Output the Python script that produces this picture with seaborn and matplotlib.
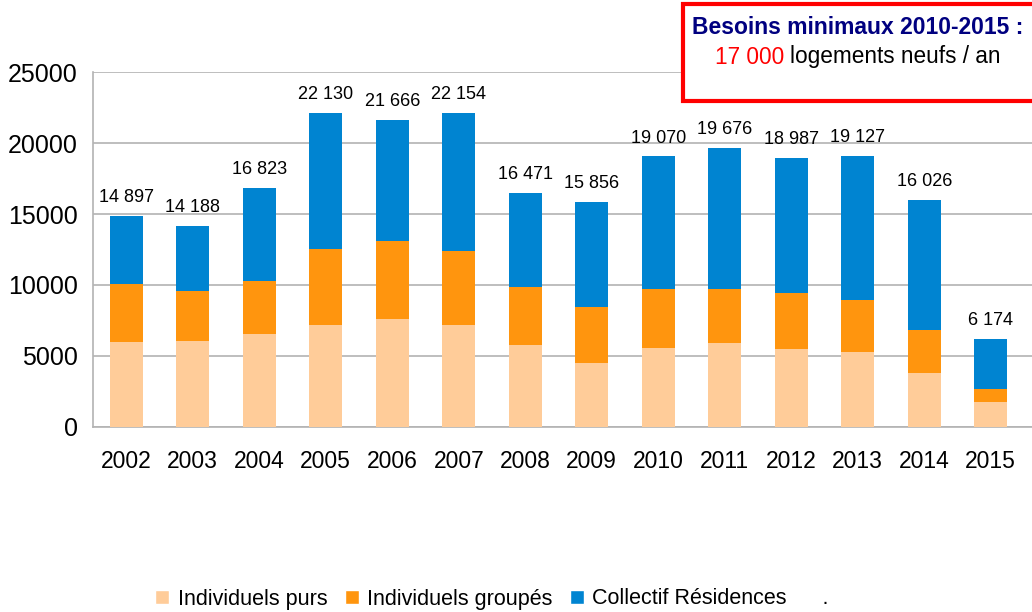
import numpy as np
import pandas as pd
import matplotlib
import matplotlib.pyplot as plt
import seaborn as sns
from matplotlib.patches import Patch, Rectangle

matplotlib.use('Agg')

# Data
years = ['2002', '2003', '2004', '2005', '2006', '2007', '2008',
         '2009', '2010', '2011', '2012', '2013', '2014', '2015']
totals = [14897, 14188, 16823, 22130, 21666, 22154, 16471,
          15856, 19070, 19676, 18987, 19127, 16026, 6174]
purs = [5970, 6040, 6540, 7170, 7600, 7170, 5760,
        4490, 5550, 5900, 5480, 5270, 3790, 1740]
groupes = [4100, 3530, 3740, 5370, 5500, 5220, 4090,
           3950, 4160, 3810, 3950, 3670, 3030, 920]

col_purs = '#ffcc99'
col_groupes = '#ff950e'
col_collectif = '#0084d1'

df = pd.DataFrame({'year': years, 'total': totals, 'purs': purs, 'groupes': groupes})
df['purs_groupes'] = df['purs'] + df['groupes']

sns.set_style('white')
plt.rcParams['font.family'] = ['Liberation Sans', 'DejaVu Sans']
plt.rcParams['text.color'] = 'black'
plt.rcParams['xtick.color'] = 'black'
plt.rcParams['ytick.color'] = 'black'

fig = plt.figure(figsize=(10.32, 6.12), dpi=100)
ax = fig.add_axes([93 / 1032, 1 - 426.7 / 612, 1 - 93 / 1032, (426.7 - 72.3) / 612])

# Stacked bars drawn as overlapping cumulative bars
for col, c in [('total', col_collectif), ('purs_groupes', col_groupes), ('purs', col_purs)]:
    sns.barplot(data=df, x='year', y=col, color=c, width=0.5, saturation=1,
                linewidth=0, ax=ax, zorder=3)

# Total labels above the bars
for i, t in enumerate(totals):
    ax.annotate(f'{t:,}'.replace(',', ' '), (i, t), xytext=(0, 7),
                textcoords='offset points', ha='center', va='bottom',
                fontsize=13, color='black')

ax.set_ylim(0, 25000)
ax.set_xlim(-0.5, 13.62)
ax.set_yticks(np.arange(0, 25001, 5000))
ax.yaxis.grid(True, color='#b3b3b3', linewidth=1.2, zorder=0)
ax.set_axisbelow(True)
ax.set_xlabel('')
ax.set_ylabel('')

for s in ['top', 'right']:
    ax.spines[s].set_visible(False)
for s in ['left', 'bottom']:
    ax.spines[s].set_color('#b3b3b3')
    ax.spines[s].set_linewidth(1.2)

ax.tick_params(axis='y', length=7, color='#b3b3b3', width=1.2, labelsize=18,
               labelcolor='black', pad=4)
ax.tick_params(axis='x', which='major', length=0, labelsize=16.5,
               labelcolor='black', pad=17)
ax.set_xticks(np.arange(-0.5, 14, 1), minor=True)
ax.tick_params(axis='x', which='minor', length=7, color='#b3b3b3', width=1.2)

# Legend at the bottom
handles = [Patch(facecolor=col_purs, label='Individuels purs'),
           Patch(facecolor=col_groupes, label='Individuels groupés'),
           Patch(facecolor=col_collectif, label='Collectif Résidences      .')]
fig.legend(handles=handles, loc='center', bbox_to_anchor=(492 / 1032, 1 - 599 / 612),
           ncol=3, frameon=False, fontsize=15.5, handlelength=0.65, handleheight=0.65,
           handletextpad=0.4, columnspacing=0.8, labelcolor='black')

# Red box with the minimal needs note
fig.add_artist(Rectangle((683 / 1032, 1 - 101 / 612), 0.4, 97 / 612,
                         transform=fig.transFigure, facecolor='white',
                         edgecolor='#ff0000', linewidth=3, zorder=5))
fig.text(858 / 1032, 1 - 27 / 612, 'Besoins minimaux 2010-2015 :', ha='center', va='center',
         fontsize=16.5, fontweight='bold', color='#000080', zorder=6)
fig.text(784 / 1032, 1 - 57 / 612, '17 000', ha='right', va='center',
         fontsize=16.3, color='#ff0000', zorder=6)
fig.text(790 / 1032, 1 - 57 / 612, 'logements neufs / an', ha='left', va='center',
         fontsize=16.3, color='black', zorder=6)

plt.savefig('out.png', dpi=100)
